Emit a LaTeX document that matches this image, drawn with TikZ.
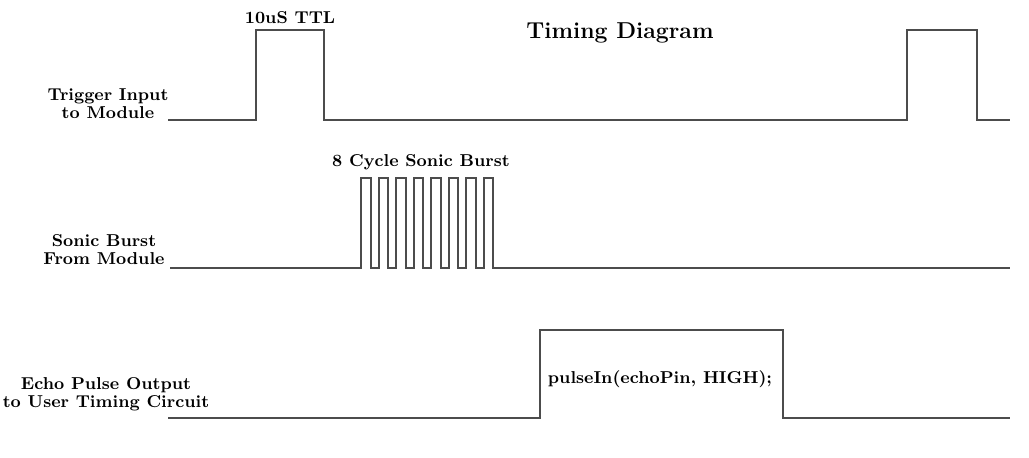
\documentclass[tikz,border=0pt]{standalone}
\usetikzlibrary{positioning}

\begin{document}
\begin{tikzpicture}[x=0.5pt,y=-0.5pt,
  wave/.style={draw=black!70,line width=1pt,line join=miter},
  lbl/.style={font=\fontsize{8.6}{9}\selectfont\bfseries,align=center,inner sep=0pt},
  title/.style={font=\fontsize{11.5}{12}\selectfont\bfseries,inner sep=0pt}]

\useasboundingbox (0,0) rectangle (1029,458);

% trigger line
\coordinate (t0) at (168,120);
\coordinate (t1) at (256,30);
\coordinate (t2) at (324,120);
\coordinate (t3) at (907,30);
\coordinate (t4) at (977,120);
\coordinate (t5) at (1010,120);
\draw[wave] (t0) -| (t1) -| (t2) -| (t3) -| (t4) -- (t5);

% burst line
\coordinate (s0) at (170,268);
\coordinate (s1) at (1010,268);
\draw[wave] (s0) \foreach \i in {0,...,7} {
  -- ({361+17.5*\i},268) |- ({370.5+17.5*\i},178) -- ({370.5+17.5*\i},268)} -- (s1);

% echo line
\coordinate (e0) at (168,418);
\coordinate (e1) at (540,330);
\coordinate (e2) at (783,418);
\coordinate (e3) at (1010,418);
\draw[wave] (e0) -| (e1) -| (e2) -- (e3);

\node[title] (head) at (620,33) {Timing Diagram};
\node[lbl] (ttl) at (290,18) {10uS TTL};
\node[lbl] (cyc) at (421,162) {8 Cycle Sonic Burst};
\node[lbl] (pin) at (660,379) {pulseIn(echoPin, HIGH);};

\node[lbl] (trig) at (108,104) {Trigger Input\\to Module};
\node[lbl] (sonic) at (104,250) {Sonic Burst\\From Module};
\node[lbl] (echo) at (106,394) {Echo Pulse Output\\to User Timing Circuit};
\end{tikzpicture}
\end{document}
